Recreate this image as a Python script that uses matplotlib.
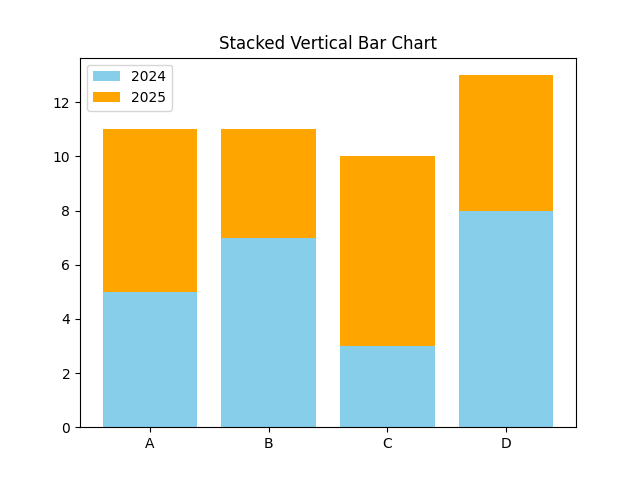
import matplotlib
matplotlib.use("Agg")
import matplotlib.pyplot as plt

categories = ['A', 'B', 'C', 'D']
values_2024 = [5, 7, 3, 8]
values_2025 = [6, 4, 7, 5]

fig, ax = plt.subplots(figsize=(6.4, 4.8), dpi=100)
ax.bar(categories, values_2024, color='skyblue', label='2024')
ax.bar(categories, values_2025, bottom=values_2024, color='orange', label='2025')
ax.set_title('Stacked Vertical Bar Chart')
ax.legend(loc='upper left')

fig.savefig('out.png')
